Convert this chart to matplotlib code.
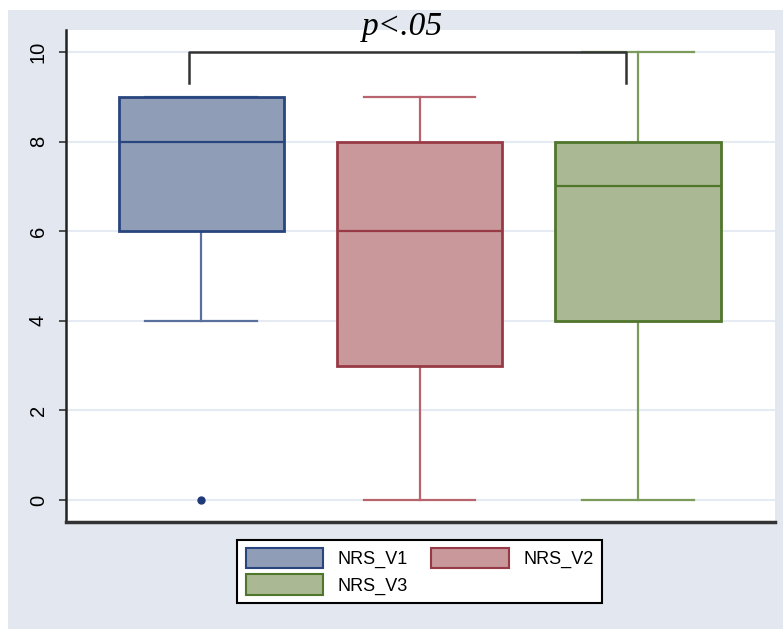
import matplotlib
matplotlib.use("Agg")
import matplotlib.pyplot as plt
from matplotlib.patches import Patch, Rectangle

# box plot summary values
labels = ["NRS_V1", "NRS_V2", "NRS_V3"]
q1 = [6, 3, 4]
med = [8, 6, 7]
q3 = [9, 8, 8]
whislo = [4, 0, 0]
whishi = [9, 9, 10]
fliers = [[0], [], []]
yticks = [0, 2, 4, 6, 8, 10]

faces = ["#909db6", "#c8989b", "#aab893"]
edges = ["#28457e", "#983a46", "#50762c"]
whisk = ["#5a6f9c", "#b8646e", "#7b9a5c"]
bg = "#e3e7f0"

fig = plt.figure(figsize=(7.83, 6.29), dpi=100)
fig.patch.set_facecolor("white")
fig.patches.append(Rectangle((0.0102, 0), 0.99, 0.984, transform=fig.transFigure,
                             facecolor=bg, edgecolor="none", zorder=-10))

ax = fig.add_axes([0.0843, 0.170, 0.9055, 0.7823])
ax.set_facecolor("white")

stats = []
for i in range(3):
    stats.append(dict(med=med[i], q1=q1[i], q3=q3[i], whislo=whislo[i],
                      whishi=whishi[i], fliers=fliers[i], label=labels[i]))

pos = [1, 2, 3]
for i in range(3):
    b = ax.bxp([stats[i]], positions=[pos[i]], widths=0.757, capwidths=0.51,
               patch_artist=True, showfliers=True, manage_ticks=False)
    for box in b["boxes"]:
        box.set_facecolor(faces[i])
        box.set_edgecolor(edges[i])
        box.set_linewidth(2)
        box.set_zorder(3)
    for m in b["medians"]:
        m.set_color(edges[i])
        m.set_linewidth(1.6)
        m.set_zorder(4)
    for w in b["whiskers"] + b["caps"]:
        w.set_color(whisk[i])
        w.set_linewidth(1.6)
        w.set_zorder(2)
    for f in b["fliers"]:
        f.set_marker("o")
        f.set_markerfacecolor("#1f3a78")
        f.set_markeredgecolor("#1f3a78")
        f.set_markersize(5)

ax.set_xlim(0.381, 3.628)
ax.set_ylim(-0.49, 10.49)
ax.set_yticks(yticks)
ax.set_yticklabels([str(t) for t in yticks], rotation=90, va="center",
                   fontsize=14.5, family="Liberation Sans")
ax.tick_params(axis="y", length=5, width=1.2, color="#333333", pad=8)
ax.set_xticks([])
ax.yaxis.grid(True, color="#e6eaf2", linewidth=1.5)
ax.set_axisbelow(True)
for s in ["top", "right"]:
    ax.spines[s].set_visible(False)
ax.spines["left"].set_linewidth(1.8)
ax.spines["left"].set_color("#222222")
ax.spines["bottom"].set_linewidth(2.5)
ax.spines["bottom"].set_color("#333333")

# significance bracket between V1 and V3
ax.plot([0.945, 0.945, 2.945, 2.945], [9.3, 10, 10, 9.3], color="#333333",
        linewidth=1.8, zorder=5, clip_on=False)
fig.text(0.514, 0.958, "p<.05", ha="center", va="center", fontsize=24,
         style="italic", family="Liberation Serif")

handles = [Patch(facecolor=faces[i], edgecolor=edges[i], linewidth=1.5,
                 label=labels[i]) for i in range(3)]
order = [0, 2, 1]
leg = fig.legend([handles[i] for i in order], [labels[i] for i in order],
                 ncol=2, loc="center", bbox_to_anchor=(0.536, 0.092),
                 frameon=True, fancybox=False, edgecolor="black", framealpha=1,
                 prop={"family": "Liberation Sans", "size": 13},
                 handlelength=4.3, handleheight=1.35, columnspacing=1.3,
                 handletextpad=0.8, labelspacing=0.35, borderpad=0.45)
leg.get_frame().set_linewidth(1.5)
leg.get_frame().set_facecolor("white")

fig.savefig("out.png", dpi=100)
